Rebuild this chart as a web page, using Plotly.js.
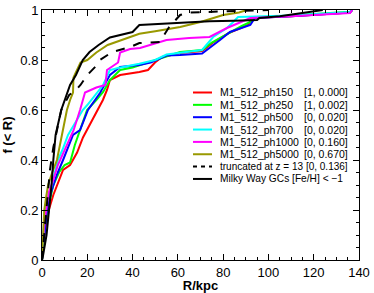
<!DOCTYPE html>
<html><head><meta charset="utf-8">
<script src="https://cdn.plot.ly/plotly-3.0.1.min.js"></script>
<style>html,body{margin:0;padding:0;background:#fff}#plot{width:374px;height:293px}</style>
</head><body><div id="plot"></div>
<script>
// ---- data ----
const seriesNames = ["M1_512_ph150","M1_512_ph250","M1_512_ph500","M1_512_ph700","M1_512_ph1000","M1_512_ph5000","truncated at z = 13 [0, 0.136]","Milky Way GCs [Fe/H] < \u22121"];
const seriesTags = ["[1, 0.000]","[1, 0.002]","[0, 0.020]","[0, 0.020]","[0, 0.160]","[0, 0.670]","",""];

const r150 = [0,0.5,1.5,3,5,7,9.3,12.4,15.5,18.1,21,24.3,26.9,28.7,30,34.5,38.9,43,46.8,49.9,53,61,66,70.7,75.6,80,83,87,91,92.8,110,136,137];
const f150 = [0,0.06,0.13,0.2,0.26,0.31,0.36,0.38,0.43,0.49,0.54,0.6,0.64,0.68,0.72,0.74,0.745,0.752,0.76,0.79,0.812,0.828,0.832,0.836,0.87,0.895,0.91,0.925,0.94,0.968,0.975,0.99,1];

const r250 = [0,0.5,1.5,2.5,5,7.5,10,12.4,14.5,16.8,19.9,24,27,30,34.5,40,45,50,55,61,66,70.7,75,79,83,88,92,94,110,136,137];
const f250 = [0,0.07,0.15,0.2,0.3,0.35,0.38,0.39,0.46,0.52,0.6,0.64,0.672,0.72,0.76,0.77,0.785,0.8,0.815,0.832,0.836,0.84,0.87,0.89,0.912,0.935,0.952,0.97,0.978,0.993,1];

const r500 = [0,0.5,1.2,2.2,4,6.5,9.3,11.5,13.7,16.8,20.3,25.6,30,34.5,43,48,55,61,70.7,78.6,83,92,94,110,136,137];
const f500 = [0,0.05,0.12,0.2,0.27,0.34,0.4,0.45,0.5,0.52,0.6,0.668,0.74,0.772,0.78,0.79,0.818,0.82,0.826,0.88,0.912,0.94,0.968,0.975,0.99,1];

const r700 = [0,0.3,0.8,1.3,2.5,4.4,7,9,11.5,14,18,20,23.4,27,30,33.6,43,50,55,61,70.7,75.6,81.7,84,86.6,110,136,137];
const f700 = [0,0.06,0.13,0.2,0.24,0.3,0.4,0.44,0.5,0.54,0.6,0.62,0.66,0.7,0.76,0.768,0.785,0.8,0.822,0.828,0.84,0.892,0.928,0.948,0.972,0.978,0.992,1];

const r1000 = [0,0.1,0.6,1.5,3,5,7,10,12,14,16.8,19,24,28,28.7,33.6,34.5,38.9,43.3,55,65,74,81.7,87,92,110,136,137];
const f1000 = [0,0.07,0.1,0.18,0.27,0.32,0.38,0.44,0.48,0.52,0.6,0.67,0.69,0.7,0.76,0.79,0.83,0.844,0.848,0.88,0.888,0.892,0.928,0.95,0.968,0.975,0.988,1];

const r5000 = [0,0.3,1,1.8,2.7,4.5,6.6,8.8,11,12.4,13.7,13.9,17,20,24,29,35,43,50,61,70,80,87,90.5];
const f5000 = [0,0.05,0.2,0.25,0.3,0.35,0.4,0.5,0.6,0.64,0.67,0.73,0.79,0.8,0.83,0.86,0.88,0.905,0.915,0.932,0.952,0.98,0.99,1];

const rTrunc = [0,0.5,1.5,2.6,3.5,5,6.5,8.5,12,15,17,20,24.3,25.6,31,39,43,52,56,61,65,90,100];
const fTrunc = [0,0.05,0.15,0.28,0.36,0.45,0.52,0.6,0.66,0.68,0.7,0.74,0.78,0.8,0.832,0.852,0.868,0.872,0.93,0.98,0.99,0.995,1];

const rMW = [0,0.5,2,3.2,4.2,5,6,8.5,10,12.4,15,18,21,25,30,40,43,65,74,85,95,96,105,115,124];
const fMW = [0,0.02,0.1,0.2,0.3,0.4,0.5,0.6,0.64,0.7,0.74,0.8,0.832,0.86,0.89,0.912,0.94,0.952,0.955,0.957,0.96,0.968,0.975,0.988,1];

const xTicks = [0,20,40,60,80,100,120,140];
const yTicks = [0,0.2,0.4,0.6,0.8,1];

// ---- styles ----
const colors = ["#ff0000","#00ff00","#0000ff","#00ffff","#ff00ff","#999900","#000000","#000000"];
const dashes = ["solid","solid","solid","solid","solid","solid","dash","solid"];
const labelSizes = [10.5,10.5,10.5,10.5,10.5,10.5,10,10.2];

const xs = [r150,r250,r500,r700,r1000,r5000,rTrunc,rMW];
const ys = [f150,f250,f500,f700,f1000,f5000,fTrunc,fMW];

const traces = xs.map((x,i)=>({x:x,y:ys[i],type:'scatter',mode:'lines',name:seriesNames[i],
  line:{color:colors[i],width:2,dash:dashes[i]},showlegend:false,hoverinfo:'skip'}));

const FONT = "Liberation Sans, Arial, Helvetica, sans-serif";
const W=374,H=293,L=42,R=15,T=10,B=33;
const pw=W-L-R, ph=H-T-B;
const px2x = p => (p-L)/pw;
const py2y = p => (H-B-p)/ph;

const shapes=[], annotations=[];
const row0=92.5, rowGap=12.35;
seriesNames.forEach((n,i)=>{
  const yy = py2y(row0+i*rowGap);
  shapes.push({type:'line',xref:'paper',yref:'paper',x0:px2x(193),x1:px2x(212),y0:yy,y1:yy,
    line:{color:colors[i],width:2,dash:dashes[i]==='dash'?'4px,4px':'solid'}});
  annotations.push({xref:'paper',yref:'paper',x:px2x(218),y:yy,xanchor:'left',yanchor:'middle',
    text:n.replace(/</g,'&lt;'),showarrow:false,font:{family:FONT,size:labelSizes[i],color:'#000'}});
  if(seriesTags[i]) annotations.push({xref:'paper',yref:'paper',x:px2x(350),y:yy,xanchor:'right',yanchor:'middle',
    text:seriesTags[i],showarrow:false,font:{family:FONT,size:10.5,color:'#000'}});
});

const axisCommon = {showgrid:false,zeroline:false,showline:true,linecolor:'#000',linewidth:1,
  mirror:'allticks',ticks:'inside',ticklen:6,tickwidth:1,tickcolor:'#000',
  tickfont:{family:FONT,size:13,color:'#000'}};

const layout = {
  width:W,height:H,margin:{l:L,r:R,t:T,b:B},paper_bgcolor:'#fff',plot_bgcolor:'#fff',
  showlegend:false,
  xaxis:Object.assign({},axisCommon,{range:[0,140],tickvals:xTicks,ticktext:xTicks.map(String),
    minor:{dtick:5,tick0:0,ticks:'inside',ticklen:3,tickcolor:'#000'},
    title:{text:'<b>R/kpc</b>',font:{family:FONT,size:13,color:'#000'},standoff:2}}),
  yaxis:Object.assign({},axisCommon,{range:[0,1],tickvals:yTicks,ticktext:yTicks.map(String),
    minor:{dtick:0.05,tick0:0,ticks:'inside',ticklen:3,tickcolor:'#000'},
    title:{text:'<b>f (&lt; R)</b>',font:{family:FONT,size:13,color:'#000'},standoff:4}}),
  shapes:shapes,annotations:annotations
};
Plotly.newPlot('plot',traces,layout,{staticPlot:true,displayModeBar:false});
</script></body></html>
